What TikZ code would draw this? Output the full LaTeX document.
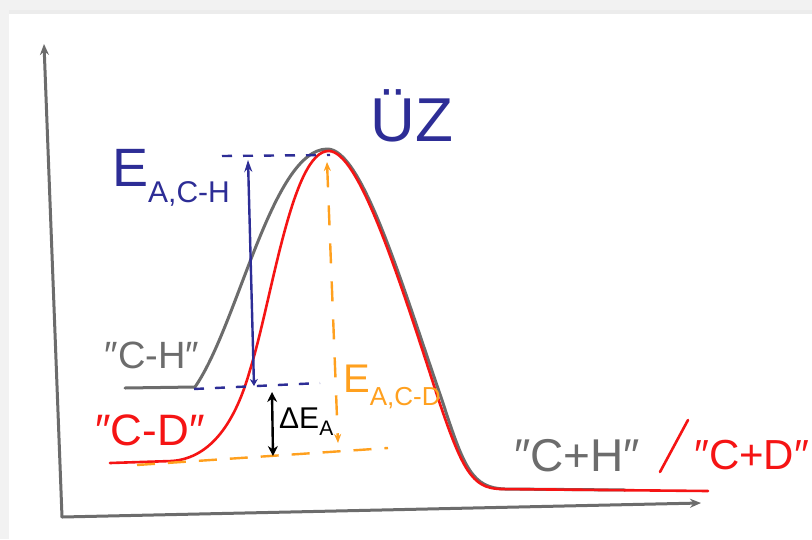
\documentclass[tikz,border=0pt]{standalone}
\usepackage{fontspec}
\setmainfont{Liberation Sans}
\usetikzlibrary{arrows.meta,positioning,calc}
\definecolor{sketchgray}{RGB}{108,108,108}
\definecolor{sketchred}{RGB}{245,20,20}
\definecolor{sketchblue}{RGB}{45,45,150}
\definecolor{sketchorange}{RGB}{255,160,30}
\definecolor{framegray}{RGB}{242,242,242}
\newcommand{\dq}{″}
\tikzset{
  axisline/.style={-{Stealth[length=11pt,width=9pt]},line width=3pt,color=sketchgray,line cap=round},
  chcurve/.style={line width=3pt,color=sketchgray,line cap=round,line join=round},
  cdcurve/.style={line width=2.6pt,color=sketchred,line cap=round,line join=round},
  bluedash/.style={line width=2.4pt,color=sketchblue,dash pattern=on 10pt off 11pt},
  orangedash/.style={line width=2.4pt,color=sketchorange,dash pattern=on 18pt off 13pt},
  bluearr/.style={{Stealth[length=7pt,width=8pt]}-{Stealth[length=12pt,width=8pt]},line width=2.4pt,color=sketchblue},
  orangearr/.style={{Stealth[length=9pt,width=7pt]}-{Stealth[length=9pt,width=7pt]},line width=2.4pt,color=sketchorange,dash pattern=on 20pt off 18pt},
  blackarr/.style={{Stealth[length=10pt,width=10pt]}-{Stealth[length=10pt,width=10pt]},line width=2.4pt,color=black},
  sketchtext/.style={inner sep=0pt,font=\fontsize{46}{46}\selectfont}
}

\begin{document}
\begin{tikzpicture}[x=1pt,y=-1pt]
  \useasboundingbox (0,0) rectangle (812,539);
  %% frame of the screenshot
  \fill[white] (0,0) rectangle (812,539);
  \fill[framegray] (0,0) rectangle (812,12);
  \fill[framegray!70!gray!40] (0,10) rectangle (812,14);
  \fill[framegray] (0,0) rectangle (9,539);

  %% axes
  \coordinate (origin) at (62,517);
  \coordinate (ytop) at (44,44);
  \coordinate (xend) at (701,503);
  \draw[axisline] (origin) -- (ytop);
  \draw[axisline] (origin) -- (xend);

  %% key points
  \coordinate (peak) at (327,149);
  \coordinate (chstart) at (125,388);
  \coordinate (chend) at (625,490);
  \coordinate (cdstart) at (110,463);
  \coordinate (cdend) at (708,491);

  %% curves
  \draw[chcurve] (chstart) -- (195,387) .. controls (238,325) and (272,150) .. (peak)
    .. controls (362,148) and (402,285) .. (442,400)
    .. controls (464,468) and (472,488) .. (505,489) -- (chend);
  \draw[cdcurve] (cdstart) -- (172,461) .. controls (212,458) and (236,420) .. (250,370)
    .. controls (272,300) and (292,150) .. (329,151)
    .. controls (358,152) and (395,265) .. (437,395)
    .. controls (462,470) and (472,488) .. (500,489) -- (cdend);

  %% energy levels
  \coordinate (tsl) at (222,156);
  \coordinate (tsr) at (330,155);
  \coordinate (chl) at (194,389);
  \coordinate (chr) at (320,383);
  \coordinate (cdl) at (137,465);
  \coordinate (cdr) at (388,448);
  \draw[bluedash] (tsl) -- (tsr);
  \draw[bluedash] (chl) -- (chr);
  \draw[orangedash] (cdl) -- (cdr);

  %% activation energies
  \coordinate (eachtop) at (248,160);
  \coordinate (eachbot) at (254,386);
  \coordinate (eacdtop) at (327,162);
  \coordinate (eacdbot) at (338,443);
  \coordinate (detop) at (272,392);
  \coordinate (debot) at (273,456);
  \draw[bluearr] (eachbot) -- (eachtop);
  \draw[orangearr] (eacdtop) -- (eacdbot);
  \draw[blackarr] (detop) -- (debot);

  %% labels
  \node[sketchtext,color=sketchblue,font=\fontsize{62}{62}\selectfont] (uez) at (412,116) {ÜZ};
  \node[sketchtext,color=sketchblue,anchor=west,font=\fontsize{54}{54}\selectfont] (each) at (112,178)
    {E\raisebox{-16pt}{\fontsize{30}{30}\selectfont A,C-H}};
  \node[sketchtext,color=sketchorange,anchor=west,font=\fontsize{40}{40}\selectfont] (eacd) at (343,387)
    {E\raisebox{-13pt}{\fontsize{26}{26}\selectfont A,C-D}};
  \node[sketchtext,anchor=west,font=\fontsize{30}{30}\selectfont] (de) at (279,422)
    {ΔE\raisebox{-7pt}{\fontsize{21}{21}\selectfont A}};
  \node[sketchtext,color=sketchgray,font=\fontsize{38}{38}\selectfont] (chlab) at (152,355) {\dq C-H\dq};
  \node[sketchtext,color=sketchred,font=\fontsize{44}{44}\selectfont] (cdlab) at (150,430) {\dq C-D\dq};
  \node[sketchtext,color=sketchgray] (chplab) at (577,456) {\dq C+H\dq};
  \node[sketchtext,color=sketchred,anchor=west,font=\fontsize{42}{42}\selectfont] (cdplab) at (694,455) {\dq C+D\dq};
  \coordinate (slashtop) at (688,420);
  \coordinate (slashbot) at (660,472);
  \draw[cdcurve] (slashbot) -- (slashtop);
\end{tikzpicture}
\end{document}
